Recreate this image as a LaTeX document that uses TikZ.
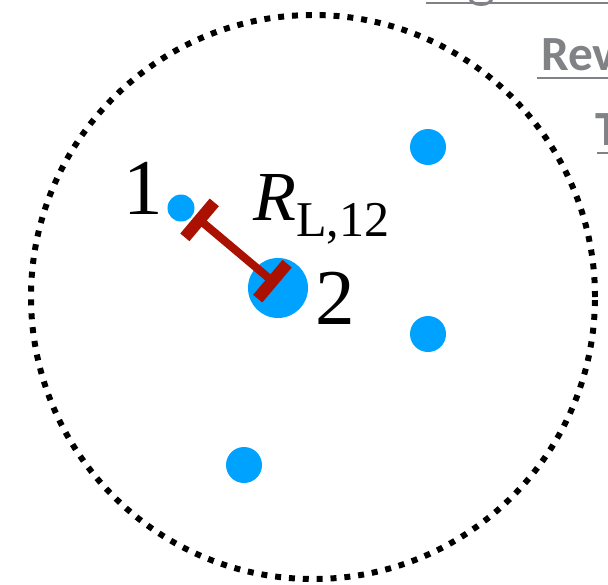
\documentclass[tikz,border=0pt]{standalone}
\usepackage{fontspec}
\setmainfont{Liberation Serif}
\newfontfamily\slidefont{Carlito}
\usetikzlibrary{arrows.meta,calc}
\usepackage{tkz-euclide}
\definecolor{PointClr}{RGB}{0,162,255}
\definecolor{BarClr}{RGB}{170,17,0}
\definecolor{SlideClr}{RGB}{128,130,133}

\begin{document}
\begin{tikzpicture}
\tikzset{slide line/.style={SlideClr,line width=1.7pt}}
\useasboundingbox (-6.26,-5.74) rectangle (5.90,5.94);
\clip (-6.26,-5.74) rectangle (5.90,5.94);

\tkzDefPoints{0/0/O,5.64/0/X}
\tkzDefPoints{-2.64/1.78/P1,-0.70/0.18/P2,2.30/3.00/P3,2.30/-0.74/P4,-1.38/-3.36/P5}
\tkzDefPoints{-2.36/1.62/E1,-0.72/0.24/E2}

\tkzDrawCircle[color=black,line width=3.4pt,dash pattern=on 3.4pt off 4.5pt](O,X)

\fill[PointClr] (P1) circle (0.27);
\fill[PointClr] (P2) circle (0.60);
\fill[PointClr] (P3) circle (0.36);
\fill[PointClr] (P4) circle (0.36);
\fill[PointClr] (P5) circle (0.36);

\tkzDrawSegment[BarClr,line width=4.6pt,{Bar[width=26pt,line width=6.8pt]}-{Bar[width=26pt,line width=6.8pt]}](E1,E2)

\node[inner sep=0pt,font=\fontsize{45}{45}\selectfont] (lab1) at (-3.40,2.18) {1};
\node[inner sep=0pt,font=\fontsize{45}{45}\selectfont] (lab2) at (0.44,-0.02) {2};
\node[inner sep=0pt,anchor=base west,font=\fontsize{40}{40}\selectfont] (labR) at (-1.20,1.54)
  {\textit{R}\raisebox{-9.6pt}{\fontsize{28.5}{28.5}\selectfont L,12}};

% cropped slide text
\node[inner sep=0pt,anchor=base west,text=SlideClr,font=\slidefont\bfseries\fontsize{28}{28}\selectfont] (rev) at (4.56,4.54) {Rev};
\node[inner sep=0pt,anchor=base west,text=SlideClr,font=\slidefont\bfseries\fontsize{28}{28}\selectfont] (tt) at (5.64,3.04) {T};
\draw[slide line] (4.48,4.38) -- (5.95,4.38);
\draw[slide line] (5.68,2.88) -- (5.95,2.88);
\draw[slide line] (2.26,5.88) -- (5.95,5.88);
\draw[slide line] (3.14,5.98) arc[start angle=180,end angle=360,x radius=0.22,y radius=0.13];
\end{tikzpicture}
\end{document}
